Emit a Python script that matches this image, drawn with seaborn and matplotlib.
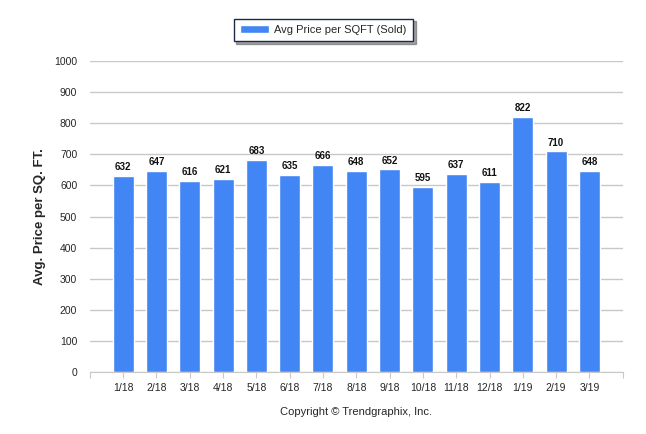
import matplotlib
matplotlib.use("Agg")
import matplotlib.pyplot as plt
import seaborn as sns
import pandas as pd

# data
months = ["1/18", "2/18", "3/18", "4/18", "5/18", "6/18", "7/18", "8/18",
          "9/18", "10/18", "11/18", "12/18", "1/19", "2/19", "3/19"]
price_sqft = [632, 647, 616, 621, 683, 635, 666, 648, 652, 595, 637, 611, 822, 710, 648]
yticks = list(range(0, 1001, 100))

df = pd.DataFrame({"month": months, "price": price_sqft})

sns.set_style("white")
plt.rcParams["font.family"] = ["Liberation Sans", "DejaVu Sans"]

bar_color = "#4286F5"
grid_color = "#C8C8C8"

fig = plt.figure(figsize=(6.46, 4.34), dpi=100)
ax = fig.add_axes([0.139, 0.143, 0.825, 0.716])

sns.barplot(data=df, x="month", y="price", color=bar_color, width=0.63,
            saturation=1, ax=ax, label="Avg Price per SQFT (Sold)", zorder=3)

for i, v in enumerate(price_sqft):
    ax.text(i, v + 12, str(v), ha="center", va="bottom", fontsize=7,
            fontweight="bold", color="#111111", zorder=4)

ax.set_xlim(-1, len(months))
ax.set_ylim(0, 1000)
ax.set_yticks(yticks)
ax.set_xticks(list(range(-1, len(months) + 1)))
ax.set_xticklabels([""] + months + [""])
ax.yaxis.grid(True, color=grid_color, linewidth=1, zorder=0)
ax.tick_params(axis="y", length=6, color=grid_color, labelsize=7.5, pad=3)
ax.tick_params(axis="x", length=4, color=grid_color, labelsize=7.5, pad=4,
               direction="out", bottom=True)

for s in ["top", "right", "left"]:
    ax.spines[s].set_visible(False)
ax.spines["bottom"].set_color(grid_color)

ax.set_xlabel("Copyright \u00a9 Trendgraphix, Inc.", fontsize=8, labelpad=10)
ax.set_ylabel("Avg. Price per SQ. FT.", fontsize=9.5, fontweight="bold", labelpad=6)

leg = ax.legend(loc="upper center", bbox_to_anchor=(0.438, 1.155), frameon=True,
                fancybox=False, shadow=True, fontsize=8, handlelength=2.6,
                handleheight=0.8, borderpad=0.55, handletextpad=0.5)
leg.get_frame().set_edgecolor("#1a2a4a")
leg.get_frame().set_linewidth(1)

fig.savefig("out.png", dpi=100)
